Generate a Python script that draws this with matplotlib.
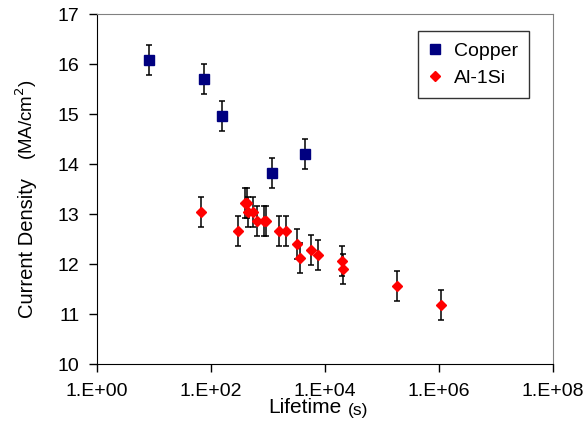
import matplotlib
matplotlib.use("Agg")
import matplotlib.pyplot as plt
from matplotlib.ticker import FixedLocator, NullLocator

plt.rcParams['font.family'] = ['Liberation Sans', 'DejaVu Sans']

# Copper data
cu_life = [8.2, 75, 154, 1200, 4400]
cu_j = [16.09, 15.71, 14.97, 13.83, 14.21]
cu_err = [0.3, 0.3, 0.3, 0.3, 0.3]

# Al-1Si data
al_life = [68, 300, 395, 437, 452, 537, 648, 850, 922, 1580, 2090,
           3230, 3700, 5600, 7420, 20000, 20700, 187000, 1.08e6]
al_j = [13.05, 12.67, 13.23, 13.23, 13.05, 13.05, 12.87, 12.87, 12.87, 12.67, 12.67,
        12.40, 12.13, 12.29, 12.18, 12.07, 11.91, 11.57, 11.19]
al_err = [0.3] * len(al_life)

x_ticks = [1e0, 1e2, 1e4, 1e6, 1e8]
x_tick_labels = ["1.E+00", "1.E+02", "1.E+04", "1.E+06", "1.E+08"]
y_ticks = [10, 11, 12, 13, 14, 15, 16, 17]

W, H = 586, 441
fig = plt.figure(figsize=(W / 100, H / 100), dpi=100)
ax = fig.add_axes([0.1655, 0.1746, 0.778, 0.793])

ax.errorbar(cu_life, cu_j, yerr=cu_err, fmt='s', color='#000080', ms=6.5,
            ecolor='black', elinewidth=1.1, capsize=2.5, capthick=1.1,
            label='Copper', zorder=3)
ax.errorbar(al_life, al_j, yerr=al_err, fmt='D', color='#ff0000', ms=5.2,
            ecolor='black', elinewidth=1.1, capsize=2.5, capthick=1.1,
            label='Al-1Si', zorder=3)

ax.set_xscale('log')
ax.set_xlim(1, 1e8)
ax.set_ylim(10, 17)
ax.xaxis.set_major_locator(FixedLocator(x_ticks))
ax.xaxis.set_minor_locator(NullLocator())
ax.set_xticklabels(x_tick_labels)
ax.set_yticks(y_ticks)

ax.tick_params(axis='both', direction='out', length=5.5, width=1, labelsize=14)
ax.tick_params(axis='y', pad=7)
ax.tick_params(axis='x', pad=8)

ax.spines['top'].set_color('#808080')
ax.spines['right'].set_color('#808080')
ax.spines['left'].set_color('black')
ax.spines['bottom'].set_color('black')

# Axis titles (main part + smaller unit part)
fig.text(268 / W, 1 - 413 / H, "Lifetime", fontsize=15, ha='left', va='baseline')
fig.text(348 / W, 1 - 415 / H, "(s)", fontsize=12.5, ha='left', va='baseline')
fig.text(33 / W, 1 - 318 / H, "Current Density", fontsize=14.5, rotation=90,
         rotation_mode='anchor', ha='left', va='baseline')
fig.text(33 / W, 1 - 160 / H, "(MA/cm$^{2}$)", fontsize=13.5, rotation=90,
         rotation_mode='anchor', ha='left', va='baseline')

h, l = ax.get_legend_handles_labels()
h = [hh[0] for hh in h]
leg = ax.legend(h, l, loc='upper right', bbox_to_anchor=(0.947, 0.951),
                frameon=True, fancybox=False, edgecolor='black',
                handlelength=0.7, handletextpad=0.6, borderpad=0.55,
                labelspacing=0.5, borderaxespad=0,
                prop={'size': 14})
leg.get_frame().set_linewidth(1)

fig.savefig("out.png", dpi=100)
